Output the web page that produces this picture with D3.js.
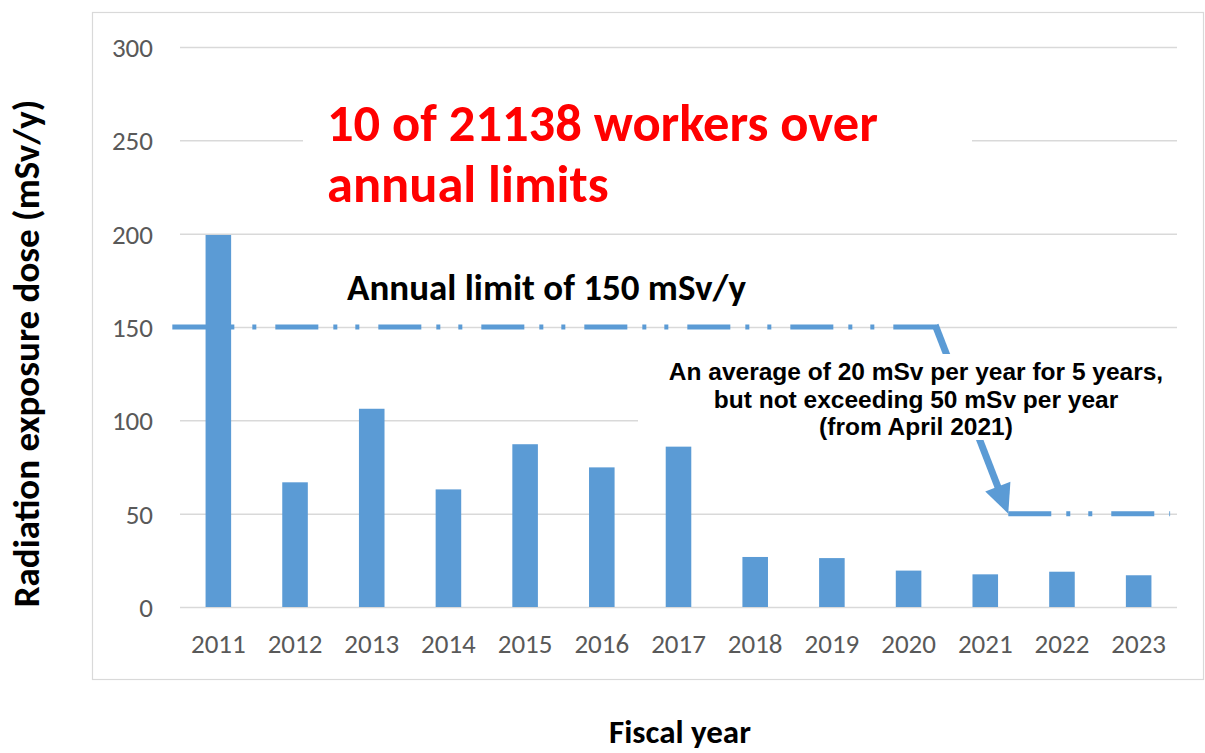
<!DOCTYPE html>
<html><head><meta charset="utf-8">
<script src="https://cdn.jsdelivr.net/npm/d3@7/dist/d3.min.js"></script>
<style>body{margin:0;background:#fff} svg{display:block}</style>
</head><body>
<svg id="chart" width="1205" height="753"></svg>
<script>
// ---- data ----
const years = ["2011","2012","2013","2014","2015","2016","2017","2018","2019","2020","2021","2022","2023"];
const doses = [199.3, 66.8, 106.2, 63.0, 87.2, 74.8, 85.9, 26.8, 26.2, 19.5, 17.5, 18.9, 17.0];
const yTicks = [0, 50, 100, 150, 200, 250, 300];
const limitStart = ["2011", "2021"];
const limitEnd   = ["2020", "2023"];
const limitValue = [150, 50];
const titleLines = ["10 of 21138 workers over", "annual limits"];
const limitLabel = "Annual limit of 150 mSv/y";
const noteLines = ["An average of 20 mSv per year for 5 years,", "but not exceeding 50 mSv per year", "(from April 2021)"];
const yTitle = "Radiation exposure dose (mSv/y)";
const xTitle = "Fiscal year";

// ---- layout ----
const plot = {left: 180, right: 1177, top: 47, bottom: 607};
const BLUE = "#5B9BD5", GRID = "#d9d9d9";
const CAL = "Carlito, Lato, 'Open Sans', sans-serif";
const ARIAL = "'Liberation Sans', Arial, sans-serif";

const svg = d3.select("#chart");

const x = d3.scaleBand().domain(years).range([plot.left, plot.right])
  .paddingInner(2/3).paddingOuter(1/3);
const y = d3.scaleLinear().domain([0, 300]).range([plot.bottom, plot.top]);
const step = x.step();
const cx = d => x(d) + x.bandwidth() / 2;

// chart frame
svg.append("rect").attr("x", 92.5).attr("y", 12.5).attr("width", 1111).attr("height", 667)
  .attr("fill", "#fff").attr("stroke", GRID).attr("stroke-width", 1.2);

// y axis with gridlines
const yAxis = svg.append("g").attr("transform", `translate(${plot.left},0)`)
  .call(d3.axisLeft(y).tickValues(yTicks).tickSizeInner(-(plot.right - plot.left)).tickSizeOuter(0).tickPadding(27));
yAxis.select(".domain").remove();
yAxis.selectAll(".tick line").attr("stroke", GRID).attr("stroke-width", 1.5);
yAxis.selectAll(".tick text").attr("fill", "#595959").attr("font-family", CAL).attr("font-size", 27).attr("dy", "0.35em");

// x axis labels
const xAxis = svg.append("g").attr("transform", `translate(0,${plot.bottom})`)
  .call(d3.axisBottom(x).tickSize(0).tickPadding(0));
xAxis.select(".domain").remove();
xAxis.selectAll(".tick text").attr("fill", "#595959").attr("font-family", CAL).attr("font-size", 27)
  .attr("y", 46).attr("dy", 0);

// limit line (dash-dot-dot) at 150
const dash = "43,15,4,18,4,19";
const x150a = cx(limitStart[0]) - 0.6 * step;
const x150b = cx(limitEnd[0]) + 0.36 * step;
const x50a = cx(limitStart[1]) + 0.3 * step;
const x50b = cx(limitEnd[1]) + 0.41 * step;

svg.append("line").attr("x1", x150a).attr("x2", x150b).attr("y1", y(limitValue[0])).attr("y2", y(limitValue[0]))
  .attr("stroke", BLUE).attr("stroke-width", 5).attr("stroke-dasharray", dash);

// bars
svg.append("g").selectAll("rect").data(years).join("rect")
  .attr("x", d => x(d)).attr("width", x.bandwidth())
  .attr("y", (d, i) => y(doses[i])).attr("height", (d, i) => y(0) - y(doses[i]))
  .attr("fill", BLUE);

// limit line at 50
svg.append("line").attr("x1", x50a).attr("x2", x50b).attr("y1", y(limitValue[1])).attr("y2", y(limitValue[1]))
  .attr("stroke", BLUE).attr("stroke-width", 5).attr("stroke-dasharray", dash);

// arrow from 150 to 50
{
  const p0 = [x150b, y(limitValue[0])], p1 = [x50a, y(limitValue[1])];
  const dx = p1[0] - p0[0], dy = p1[1] - p0[1], len = Math.hypot(dx, dy);
  const ux = dx / len, uy = dy / len, px = -uy, py = ux;
  const L = 29, hw = 13.5;
  const b = [p1[0] - ux * L, p1[1] - uy * L];
  svg.append("line").attr("x1", p0[0] - 1).attr("y1", p0[1] - 2).attr("x2", b[0] + ux * 3).attr("y2", b[1] + uy * 3)
    .attr("stroke", BLUE).attr("stroke-width", 7);
  svg.append("path").attr("d", `M${p1[0]},${p1[1]}L${b[0] + px * hw},${b[1] + py * hw}L${b[0] - px * hw},${b[1] - py * hw}Z`)
    .attr("fill", BLUE);
}

// title box (covers gridline)
svg.append("rect").attr("x", 303).attr("y", 95).attr("width", 669).attr("height", 138).attr("fill", "#fff");
svg.append("g").selectAll("text").data(titleLines).join("text")
  .attr("x", 327).attr("y", (d, i) => 141 + i * 61)
  .attr("font-family", CAL).attr("font-weight", "bold").attr("font-size", 52.5).attr("fill", "#FF0000")
  .text(d => d);

// annual limit label
svg.append("text").attr("x", 347).attr("y", 300)
  .attr("font-family", CAL).attr("font-weight", "bold").attr("font-size", 37).attr("fill", "#000")
  .text(limitLabel);

// note box
svg.append("rect").attr("x", 638).attr("y", 354).attr("width", 550).attr("height", 86).attr("fill", "#fff");
svg.append("g").selectAll("text").data(noteLines).join("text")
  .attr("x", 916).attr("y", (d, i) => 380 + i * 27.5).attr("text-anchor", "middle")
  .attr("font-family", ARIAL).attr("font-weight", "bold").attr("font-size", 24.5).attr("fill", "#000")
  .text(d => d);

// axis titles
svg.append("text").attr("transform", `translate(39,${(plot.bottom + 100) / 2}) rotate(-90)`)
  .attr("text-anchor", "middle").attr("font-family", CAL).attr("font-weight", "bold").attr("font-size", 37)
  .attr("fill", "#000").text(yTitle);
svg.append("text").attr("x", 680).attr("y", 743).attr("text-anchor", "middle")
  .attr("font-family", CAL).attr("font-weight", "bold").attr("font-size", 33)
  .attr("fill", "#000").text(xTitle);
</script>
</body></html>
